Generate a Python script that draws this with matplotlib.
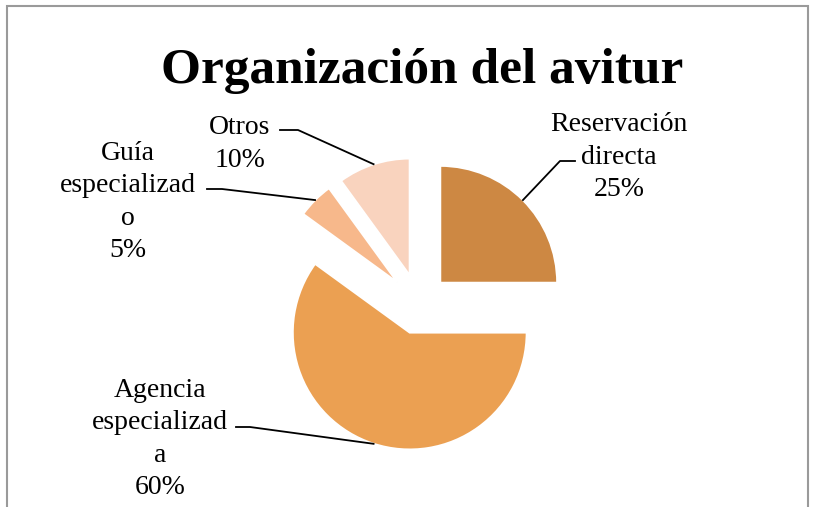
import numpy as np
import matplotlib.pyplot as plt
from matplotlib.patches import Rectangle

# data
categorias = ["Reservación\ndirecta", "Agencia\nespecializad\na", "Guía\nespecializad\no", "Otros"]
valores = [25, 60, 5, 10]
colores = ["#CD8843", "#EBA052", "#F7B88B", "#F9D3BE"]

# label layout (screen px, y down): text centre, elbow, line end
texto_xy = [(619, 157), (160, 439), (128, 202), (240, 144)]
codo_xy = [(560, 161), (250, 427), (222, 189), (298, 130)]
fin_xy = [(575, 161), (236, 427), (207, 189), (280, 130)]

W, H = 814, 507
fig = plt.figure(figsize=(W / 100, H / 100), dpi=100)
ax = fig.add_axes([0, 0, 1, 1])

# outer frame of the chart
ax.add_patch(Rectangle((7, -20), 801, H - 6 + 20, fill=False, edgecolor="#9a9a9a", lw=1.5))

ax.text(422, H - 71, "Organización del avitur", ha="center", va="center",
        fontsize=37, fontweight="bold", family="Liberation Serif")

wedges, _ = ax.pie(valores, colors=colores, startangle=90, counterclock=False,
                   center=(419, H - 304), radius=117, explode=[30] * 4,
                   wedgeprops=dict(edgecolor="white", linewidth=1.5), frame=True)
ax.axis("off")
ax.set_xlim(0, W)
ax.set_ylim(0, H)

for w, cat, v, t, c, f in zip(wedges, categorias, valores, texto_xy, codo_xy, fin_xy):
    ang = np.deg2rad((w.theta1 + w.theta2) / 2)
    px = w.center[0] + w.r * np.cos(ang)
    py = w.center[1] + w.r * np.sin(ang)
    ax.plot([px, c[0], f[0]], [py, H - c[1], H - f[1]], color="black", lw=1.3)
    ax.text(t[0], H - t[1], f"{cat}\n{v}%", ha="center", va="center",
            fontsize=20, family="Liberation Serif", linespacing=1.37)

fig.savefig("out.png", dpi=100)
